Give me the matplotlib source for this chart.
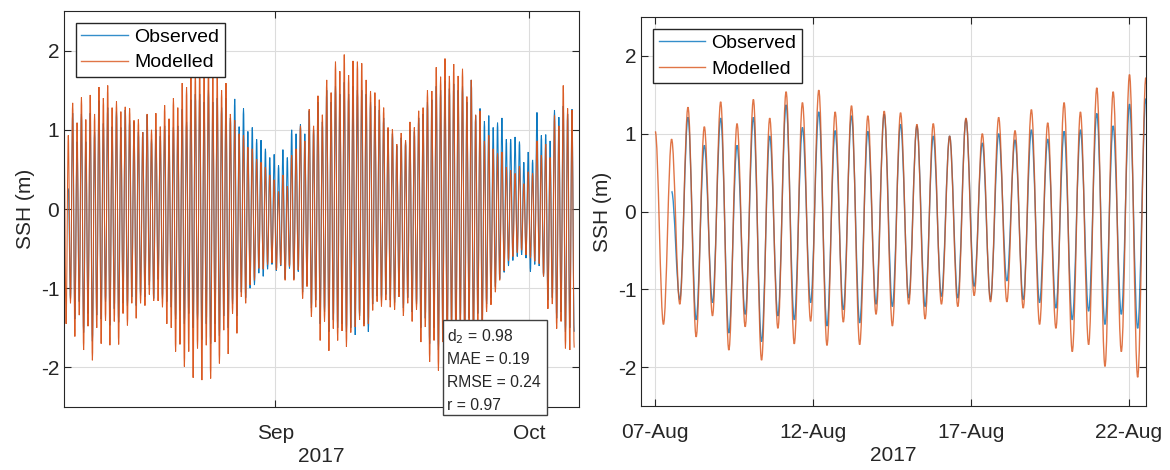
import numpy as np
import matplotlib
matplotlib.use('Agg')
import matplotlib.pyplot as plt
import matplotlib.dates as mdates
from matplotlib.patches import Rectangle, PathPatch
from matplotlib.path import Path
from matplotlib.lines import Line2D
from datetime import datetime

plt.rcParams['font.family'] = ['Liberation Sans', 'DejaVu Sans']
plt.rcParams['axes.unicode_minus'] = False

# tidal extremes: one high and the following low per
# semi-diurnal cycle, the first point at 07-Aug 00:15
t_start = mdates.date2num(datetime(2017, 8, 7)) + 0.01
half_period = 0.25875  # days (6.21 h)

mod_high = [1.03, 0.93, 1.34, 1.09, 1.41, 1.13, 1.44, 1.20, 1.54, 1.40,
            1.56, 1.28, 1.36, 1.23, 1.29, 1.27, 1.12, 1.13, 0.97, 1.20,
            1.00, 1.21, 1.04, 1.31, 1.14, 1.40, 1.28, 1.59, 1.54, 1.76,
            1.72, 1.80, 1.70, 1.82, 1.68, 1.66, 1.50, 1.59, 1.20, 1.12,
            0.95, 0.93, 0.78, 0.76, 0.63, 0.59, 0.53, 0.43, 0.37, 0.22,
            0.43, 0.29, 0.68, 0.76, 1.05, 0.86, 1.26, 1.05, 1.43, 1.19,
            1.63, 1.47, 1.86, 1.74, 1.95, 1.69, 1.87, 1.86, 1.84, 1.63,
            1.49, 1.47, 1.38, 1.28, 1.03, 1.01, 0.82, 0.96, 0.87, 1.10,
            1.03, 1.24, 1.28, 1.50, 1.49, 1.79, 1.67, 1.90, 1.68, 1.83,
            1.68, 1.77, 1.42, 1.63, 1.19, 1.24, 0.86, 0.93, 0.76, 0.70,
            0.72, 0.53, 0.49, 0.45, 0.54, 0.32, 0.47, 0.45, 0.86, 0.68,
            0.82, 0.65, 1.18, 1.05, 1.56, 1.27, 1.25]
mod_low = [-1.45, -1.19, -1.61, -1.34, -1.78, -1.48, -1.91, -1.50, -1.70, -1.41,
           -1.72, -1.42, -1.71, -1.32, -1.47, -1.19, -1.38, -1.19, -1.22, -1.08,
           -1.16, -1.16, -1.24, -1.45, -1.50, -1.80, -1.71, -1.99, -1.80, -2.13,
           -1.76, -2.16, -1.72, -2.14, -1.68, -1.95, -1.53, -1.83, -1.32, -1.57,
           -1.11, -1.19, -0.96, -0.90, -0.75, -0.76, -0.70, -0.68, -0.77, -0.71,
           -0.90, -0.73, -0.90, -0.77, -1.13, -0.98, -1.36, -1.24, -1.66, -1.42,
           -1.79, -1.51, -1.66, -1.54, -1.74, -1.56, -1.49, -1.40, -1.48, -1.45,
           -1.28, -1.17, -1.23, -1.15, -1.24, -1.27, -1.11, -1.35, -1.19, -1.42,
           -1.27, -1.68, -1.49, -1.93, -1.66, -2.04, -1.68, -1.95, -1.60, -1.90,
           -1.55, -1.85, -1.50, -1.80, -1.45, -1.60, -1.30, -1.21, -1.05, -0.90,
           -0.78, -0.65, -0.60, -0.55, -0.52, -0.58, -0.62, -0.66, -0.69, -0.85,
           -1.26, -1.20, -1.51, -1.42, -1.76, -1.78, -1.75]
obs_high = [np.nan, 0.26, 1.21, 0.85, 1.20, 0.85, 1.21, 0.97, 1.37, 1.08,
            1.28, 1.04, 1.23, 1.03, 1.25, 1.12, 1.10, 0.97, 0.97, 1.19,
            0.88, 1.00, 0.92, 1.05, 0.93, 1.03, 1.05, 1.26, 1.10, 1.38,
            1.45, 1.45, 1.35, 1.50, 1.35, 1.40, 1.28, 1.40, 1.15, 1.39,
            1.04, 1.27, 0.98, 1.03, 0.88, 0.87, 0.76, 0.65, 0.69, 0.55,
            0.75, 0.65, 1.00, 0.95, 1.07, 0.95, 1.24, 1.00, 1.35, 1.10,
            1.50, 1.35, 1.55, 1.45, 1.60, 1.45, 1.55, 1.50, 1.50, 1.45,
            1.35, 1.30, 1.25, 1.15, 1.00, 0.95, 0.80, 0.90, 0.85, 1.00,
            0.98, 1.15, 1.20, 1.35, 1.38, 1.55, 1.50, 1.62, 1.52, 1.58,
            1.50, 1.55, 1.35, 1.63, 1.18, 1.27, 1.11, 1.18, 1.03, 1.09,
            1.15, 0.88, 0.88, 0.91, 0.85, 0.59, 0.72, 0.62, 1.22, 0.93,
            0.94, 0.86, 1.25, 1.16, 1.30, 1.20, 1.26]
obs_low = [np.nan, -1.13, -1.39, -1.17, -1.56, -1.32, -1.67, -1.34, -1.39, -1.17,
           -1.47, -1.26, -1.43, -1.19, -1.22, -1.11, -1.22, -1.09, -1.11, -0.96,
           -1.13, -0.89, -1.13, -1.17, -1.24, -1.39, -1.28, -1.45, -1.32, -1.50,
           -1.40, -1.65, -1.45, -1.70, -1.45, -1.60, -1.35, -1.50, -1.20, -1.35,
           -1.05, -1.12, -1.00, -0.96, -0.81, -0.85, -0.76, -0.70, -0.78, -0.72,
           -0.88, -0.75, -0.88, -0.79, -1.05, -0.95, -1.25, -1.15, -1.45, -1.30,
           -1.55, -1.40, -1.50, -1.45, -1.55, -1.50, -1.59, -1.35, -1.45, -1.55,
           -1.20, -1.10, -1.15, -1.08, -1.15, -1.18, -1.05, -1.25, -1.12, -1.30,
           -1.20, -1.50, -1.38, -1.70, -1.50, -1.78, -1.52, -1.70, -1.45, -1.65,
           -1.40, -1.60, -1.38, -1.55, -1.32, -1.42, -1.20, -1.12, -0.98, -0.88,
           -0.80, -0.72, -0.65, -0.60, -0.58, -0.62, -0.79, -0.70, -0.72, -0.85,
           -1.15, -1.12, -1.38, -1.30, -1.55, -1.50, -1.55]

stats = ['d$_2$ = 0.98', 'MAE = 0.19', 'RMSE = 0.24', 'r = 0.97']

t = t_start + np.arange(2 * len(mod_high)) * half_period
modelled = np.column_stack((mod_high, mod_low)).ravel()
observed = np.column_stack((obs_high, obs_low)).ravel()

blue = '#0072BD'
orange = '#D95319'
dark = '#262626'


def tide_path(x, y):
    # smooth curve through the extremes: flat tangent at every high and low
    ok = ~np.isnan(y)
    x, y = x[ok], y[ok]
    verts = [(x[0], y[0])]
    codes = [Path.MOVETO]
    for i in range(1, len(x)):
        h = x[i] - x[i - 1]
        verts += [(x[i - 1] + 0.36 * h, y[i - 1]), (x[i] - 0.36 * h, y[i]), (x[i], y[i])]
        codes += [Path.CURVE4] * 3
    return Path(verts, codes)


fig = plt.figure(figsize=(11.7, 4.7), dpi=100)
ax1 = fig.add_axes([0.0547, 0.134, 0.4402, 0.8426])
ax2 = fig.add_axes([0.5479, 0.136, 0.4316, 0.8278])

for ax, lw, a in ((ax1, 0.75, 0.95), (ax2, 1.0, 0.8)):
    ax.add_patch(PathPatch(tide_path(t, observed), facecolor='none',
                           edgecolor=blue, lw=lw, alpha=a))
    ax.add_patch(PathPatch(tide_path(t, modelled), facecolor='none',
                           edgecolor=orange, lw=lw, alpha=a))
    ax.set_ylim(-2.5, 2.5)
    ax.set_yticks([-2, -1, 0, 1, 2])
    ax.set_axisbelow(True)
    ax.grid(True, color='#dcdcdc', lw=0.8)
    ax.tick_params(direction='in', top=True, right=True, length=5,
                   labelsize=15, colors=dark)
    ax.tick_params(axis='x', pad=12)
    for s in ax.spines.values():
        s.set_color(dark)
    ax.set_ylabel('SSH (m)', fontsize=15, color=dark)
    ax.set_xlabel('2017', fontsize=15, color=dark, labelpad=3)
    handles = [Line2D([], [], color=blue, lw=1.0, alpha=0.8),
               Line2D([], [], color=orange, lw=1.0, alpha=0.8)]
    leg = ax.legend(handles, ['Observed', 'Modelled'], loc='upper left',
                    fontsize=14, fancybox=False, edgecolor=dark, framealpha=1,
                    handlelength=2.4, borderaxespad=0.6, borderpad=0.3,
                    labelspacing=0.4, handletextpad=0.3)
    leg.get_frame().set_linewidth(1.0)

d0 = mdates.date2num(datetime(2017, 8, 1))
ax1.set_xlim(t_start + 0.01, d0 + 66.87)
ax1.set_xticks([mdates.date2num(datetime(2017, 9, 1)),
                mdates.date2num(datetime(2017, 10, 1))])
ax1.xaxis.set_major_formatter(mdates.DateFormatter('%b'))

ax2.set_xlim(d0 + 5.56, d0 + 21.54)
ax2.set_xticks([mdates.date2num(datetime(2017, 8, d)) for d in (7, 12, 17, 22)])
ax2.xaxis.set_major_formatter(mdates.DateFormatter('%d-%b'))

# statistics box, hangs a little below the axes
ax1.add_patch(Rectangle((0.735, -0.02), 0.202, 0.24, transform=ax1.transAxes,
                        facecolor='white', edgecolor='#404040', lw=1.0,
                        clip_on=False, zorder=5))
for i, s in enumerate(stats):
    ax1.text(0.744, 0.177 - i * 0.058, s, transform=ax1.transAxes,
             fontsize=11.3, color=dark, va='center', ha='left', zorder=6)

fig.savefig('out.png', dpi=100)
